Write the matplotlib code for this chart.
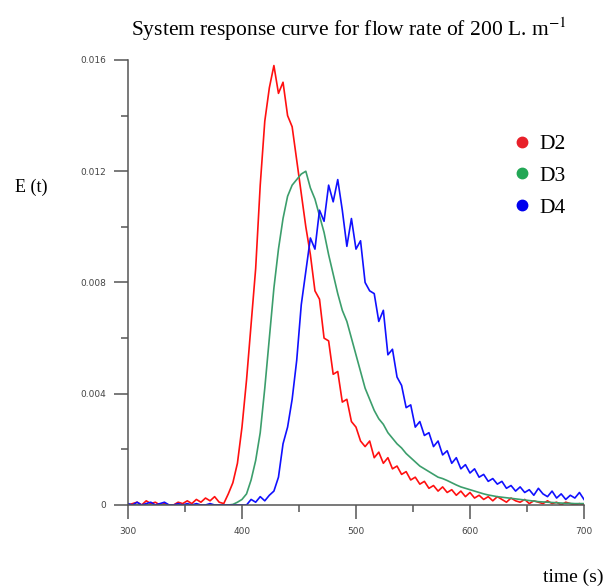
"""
System response curve (RTD) for flow rate of 200 L/min - D2, D3, D4
"""

import matplotlib.pyplot as plt
import numpy as np
from matplotlib.lines import Line2D

plt.rcParams["mathtext.fontset"] = "stix"

# ── Data (E(t), in units of 1e-3) ──
time_s = np.arange(300, 701, 4)

d2 = [0.0, 0.05, 0.1, 0.0, 0.15, 0.05, 0.1, 0.0, 0.05, 0.0,
      0.0, 0.1, 0.05, 0.15, 0.05, 0.2, 0.1, 0.25, 0.15, 0.3,
      0.1, 0.05, 0.4, 0.8, 1.5, 2.8, 4.5, 6.5, 8.5, 11.5,
      13.8, 15.0, 15.8, 14.8, 15.2, 14.0, 13.6, 12.4, 11.2, 10.0,
      9.0, 7.7, 7.4, 6.0, 5.9, 4.7, 4.8, 3.7, 3.8, 3.0,
      2.8, 2.3, 2.1, 2.3, 1.7, 1.9, 1.5, 1.7, 1.3, 1.4,
      1.1, 1.2, 0.9, 1.0, 0.75, 0.85, 0.6, 0.7, 0.5, 0.65,
      0.45, 0.55, 0.35, 0.5, 0.3, 0.45, 0.25, 0.35, 0.2, 0.3,
      0.15, 0.3, 0.2, 0.1, 0.25, 0.15, 0.1, 0.2, 0.05, 0.15,
      0.1, 0.05, 0.15, 0.05, 0.1, 0.0, 0.1, 0.05, 0.0, 0.05,
      0.0]

d3 = [0.0, 0.0, 0.0, 0.0, 0.0, 0.0, 0.0, 0.0, 0.0, 0.0,
      0.0, 0.0, 0.0, 0.0, 0.0, 0.0, 0.0, 0.0, 0.0, 0.0,
      0.0, 0.0, 0.0, 0.02, 0.1, 0.2, 0.4, 0.9, 1.6, 2.6,
      4.2, 6.0, 7.8, 9.2, 10.3, 11.1, 11.5, 11.7, 11.9, 12.0,
      11.4, 11.0, 10.4, 9.8, 9.0, 8.3, 7.6, 7.0, 6.6, 6.0,
      5.4, 4.8, 4.2, 3.8, 3.4, 3.1, 2.9, 2.6, 2.4, 2.2,
      2.05, 1.85, 1.7, 1.55, 1.4, 1.3, 1.2, 1.1, 1.0, 0.95,
      0.88, 0.8, 0.72, 0.65, 0.6, 0.55, 0.5, 0.45, 0.4, 0.36,
      0.33, 0.3, 0.28, 0.26, 0.24, 0.22, 0.2, 0.18, 0.16, 0.14,
      0.12, 0.11, 0.1, 0.09, 0.08, 0.07, 0.06, 0.06, 0.05, 0.05,
      0.05]

d4 = [0.05, 0.0, 0.1, 0.0, 0.05, 0.1, 0.0, 0.05, 0.1, 0.0,
      0.0, 0.05, 0.0, 0.05, 0.0, 0.05, 0.0, 0.0, 0.05, 0.0,
      0.0, 0.0, 0.0, 0.0, 0.0, 0.0, 0.0, 0.2, 0.1, 0.3,
      0.15, 0.35, 0.5, 1.0, 2.2, 2.8, 3.8, 5.2, 7.2, 8.4,
      9.6, 9.2, 10.6, 10.2, 11.5, 10.9, 11.7, 10.6, 9.3, 10.3,
      9.2, 9.5, 8.0, 7.7, 7.6, 6.6, 7.0, 5.4, 5.6, 4.6,
      4.3, 3.5, 3.6, 2.8, 3.0, 2.5, 2.6, 2.1, 2.3, 1.8,
      1.95, 1.5, 1.7, 1.3, 1.45, 1.15, 1.3, 1.0, 1.1, 0.85,
      0.95, 0.75, 0.85, 0.6, 0.7, 0.5, 0.65, 0.45, 0.55, 0.35,
      0.6, 0.4, 0.3, 0.5, 0.25, 0.4, 0.2, 0.35, 0.25, 0.45,
      0.2]

series_names = ["D2", "D3", "D4"]
line_colors = ["#ff1010", "#3c9e6c", "#1010ff"]
dot_colors = ["#e8202a", "#22a755", "#0000ee"]

# ── Figure ──
fig = plt.figure(figsize=(6.08, 5.87), dpi=100)
ax = fig.add_axes([0.2105, 0.1397, 0.75, 0.7581])

for vals, col in zip([d2, d3, d4], line_colors):
    ax.plot(time_s, np.array(vals) / 1000.0, color=col, linewidth=1.2)

ax.set_xlim(300, 700)
ax.set_ylim(0, 0.016)
ax.set_xticks([300, 400, 500, 600, 700])
ax.set_xticks([350, 450, 550, 650], minor=True)
ax.set_yticks([0, 0.004, 0.008, 0.012, 0.016])
ax.set_yticklabels(["0", "0.004", "0.008", "0.012", "0.016"])
ax.set_yticks([0.002, 0.006, 0.010, 0.014], minor=True)

for side in ["top", "right"]:
    ax.spines[side].set_visible(False)
for side in ["left", "bottom"]:
    ax.spines[side].set_color("#555555")
    ax.spines[side].set_linewidth(1.1)

ax.tick_params(which="major", direction="out", length=10, width=1.1,
               color="#555555", labelsize=6.5, labelcolor="#444444", pad=6)
ax.tick_params(which="minor", direction="out", length=5, width=1.1,
               color="#555555")

serif = "Liberation Serif"
fig.text(0.574, 0.95, "System response curve for flow rate of 200 L. m$^{-1}$",
         ha="center", va="center", fontsize=15.5, family=serif)
fig.text(0.025, 0.68, "E (t)", ha="left", va="center", fontsize=13, family=serif)
fig.text(0.992, 0.017, "time (s)", ha="right", va="center", fontsize=14, family=serif)

# ── Legend ──
handles = [Line2D([], [], marker="o", linestyle="none", markersize=7.5,
                  markerfacecolor=c, markeredgecolor=c) for c in dot_colors]
ax.legend(handles, series_names, loc="upper left", bbox_to_anchor=(0.83, 0.79),
          bbox_transform=fig.transFigure, frameon=False, handlelength=0.6,
          handletextpad=0.5, labelspacing=0.55, borderpad=0,
          prop={"family": serif, "size": 15.5})

plt.savefig("out.png", dpi=100)
